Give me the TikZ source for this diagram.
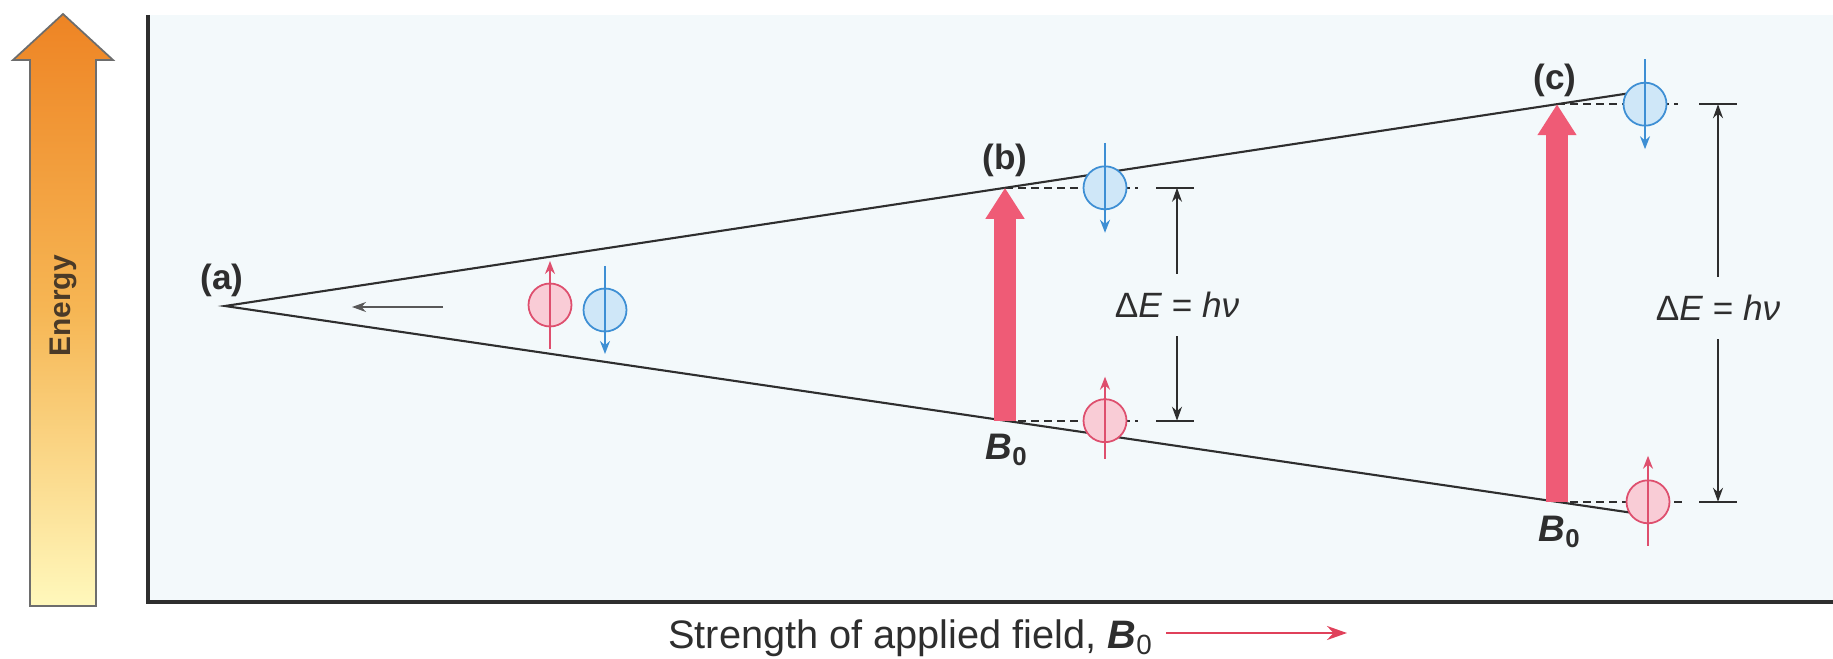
\documentclass[tikz,border=0pt]{standalone}
\usepackage{fontspec}
\setmainfont{Liberation Sans}
\usetikzlibrary{arrows.meta,positioning,calc}
\definecolor{ink}{HTML}{2E2E2E}
\definecolor{plotbg}{HTML}{F3F9FB}
\definecolor{pulsered}{HTML}{EF5B76}
\definecolor{fieldred}{HTML}{E0405A}
\definecolor{spinred}{HTML}{DE4F6E}
\definecolor{spinredfill}{HTML}{F9CCD6}
\definecolor{spinblue}{HTML}{3E8FD4}
\definecolor{spinbluefill}{HTML}{CFE7F8}
\definecolor{energytop}{HTML}{EE8424}
\definecolor{energymid}{HTML}{F6B654}
\definecolor{energybottom}{HTML}{FFF8BC}
\definecolor{energytext}{HTML}{4A3A28}
\tikzset{
  level/.style={
    draw=ink,
    line width=0.6pt
  },
  axisline/.style={
    draw=ink,
    line width=0.9pt
  },
  caselabel/.style={
    font=\bfseries\fontsize{10}{12}\selectfont,
    text=ink,
    inner sep=0pt
  },
  fieldlabel/.style={
    font=\bfseries\itshape\fontsize{10.5}{12}\selectfont,
    text=ink,
    inner sep=0pt
  },
  gaplabel/.style={
    font=\fontsize{10}{12}\selectfont,
    text=ink,
    inner xsep=1pt,
    inner ysep=5pt
  },
  pulse/.style={
    -{Triangle[length=3.1mm,width=3.7mm]},
    draw=pulsered,
    line width=6.4pt
  },
  upnucleus/.style={
    circle,
    draw=spinred,
    fill=spinredfill,
    line width=0.5pt,
    minimum size=4.3mm,
    inner sep=0pt
  },
  downnucleus/.style={
    circle,
    draw=spinblue,
    fill=spinbluefill,
    line width=0.5pt,
    minimum size=4.3mm,
    inner sep=0pt
  },
  upspin/.style={
    -{Stealth[length=1.3mm,width=1mm]},
    draw=spinred,
    line width=0.5pt
  },
  downspin/.style={
    -{Stealth[length=1.3mm,width=1mm]},
    draw=spinblue,
    line width=0.5pt
  },
  guide/.style={
    draw=ink,
    line width=0.5pt,
    dash pattern=on 2.2pt off 1.5pt
  },
  dimline/.style={
    -{Stealth[length=1.4mm,width=1mm]},
    draw=ink,
    line width=0.5pt
  },
  dimbar/.style={
    draw=ink,
    line width=0.5pt
  },
  fieldarrow/.style={
    -{Stealth[length=2mm,width=1.4mm]},
    draw=fieldred,
    line width=0.8pt
  }
}

\begin{document}
\begin{tikzpicture}[x=1cm,y=1cm]
  \useasboundingbox (0,0) rectangle (18.33,6.58);

  \shadedraw[top color=energytop, bottom color=energybottom, middle color=energymid,
    draw=ink!70, line width=0.5pt]
    (0.30,0.52) -- (0.96,0.52) -- (0.96,5.98) -- (1.13,5.98) -- (0.63,6.44)
    -- (0.13,5.98) -- (0.30,5.98) -- cycle;
  \node[rotate=90, font=\bfseries\fontsize{8.5}{10}\selectfont, text=energytext] (energy)
    at (0.63,3.52) {Energy};

  \fill[plotbg] (1.48,0.56) rectangle (18.33,6.43);
  \draw[axisline] (1.48,6.43) -- (1.48,0.56) -- (18.33,0.56);

  \coordinate (apex) at (2.25,3.52);
  \coordinate (upperend) at (16.48,5.676);
  \coordinate (lowerend) at (16.42,1.437);
  \coordinate (btop) at (10.05,4.702);
  \coordinate (bbot) at (10.05,2.373);
  \coordinate (ctop) at (15.57,5.538);
  \coordinate (cbot) at (15.57,1.562);

  \draw[level] (upperend) -- (apex) -- (lowerend);

  \node[caselabel] (lbla) at (2.22,3.78) {(a)};
  \node[caselabel] (lblb) at (10.05,4.98) {(b)};
  \node[caselabel] (lblc) at (15.55,5.78) {(c)};

  \coordinate (shiftstart) at (4.43,3.51);
  \coordinate (shiftend) at (3.52,3.51);
  \draw[dimline, draw=ink!80] (shiftstart) -- (shiftend);

  \draw[guide] (btop) -- ++(1.33,0);
  \draw[guide] (bbot) -- ++(1.33,0);
  \draw[guide] (ctop) -- ++(1.21,0);
  \draw[guide] (cbot) -- ++(1.25,0);

  \draw[pulse] (bbot) -- (btop);
  \draw[pulse] (cbot) -- (ctop);

  \node[upnucleus] (nupa) at (5.50,3.53) {};
  \node[downnucleus] (ndowna) at (6.05,3.48) {};
  \node[downnucleus] (ndownb) at (11.05,4.702) {};
  \node[upnucleus] (nupb) at (11.05,2.373) {};
  \node[downnucleus] (ndownc) at (16.45,5.538) {};
  \node[upnucleus] (nupc) at (16.48,1.562) {};

  \draw[upspin] ([yshift=-4.4mm]nupa.center) -- ([yshift=4.4mm]nupa.center);
  \draw[downspin] ([yshift=4.4mm]ndowna.center) -- ([yshift=-4.4mm]ndowna.center);
  \draw[downspin] ([yshift=4.5mm]ndownb.center) -- ([yshift=-4.5mm]ndownb.center);
  \draw[upspin] ([yshift=-3.8mm]nupb.center) -- ([yshift=4.4mm]nupb.center);
  \draw[downspin] ([yshift=4.5mm]ndownc.center) -- ([yshift=-4.5mm]ndownc.center);
  \draw[upspin] ([yshift=-4.4mm]nupc.center) -- ([yshift=4.6mm]nupc.center);

  \node[fieldlabel] (fieldb) at (10.07,2.08) {B\textsubscript{\upshape 0}};
  \node[fieldlabel] (fieldc) at (15.60,1.26) {B\textsubscript{\upshape 0}};

  \coordinate (bbartop) at (11.77,4.702);
  \coordinate (bbarbot) at (11.77,2.373);
  \draw[dimbar] ([xshift=-2.1mm]bbartop) -- ([xshift=1.7mm]bbartop);
  \draw[dimbar] ([xshift=-2.1mm]bbarbot) -- ([xshift=1.7mm]bbarbot);
  \node[gaplabel] (gapb) at (11.77,3.53) {Δ\textit{E} = \textit{hν}};
  \draw[dimline] (gapb) -- (bbartop);
  \draw[dimline] (gapb) -- (bbarbot);

  \coordinate (cbartop) at (17.18,5.538);
  \coordinate (cbarbot) at (17.18,1.562);
  \draw[dimbar] ([xshift=-1.9mm]cbartop) -- ([xshift=1.9mm]cbartop);
  \draw[dimbar] ([xshift=-1.9mm]cbarbot) -- ([xshift=1.9mm]cbarbot);
  \node[gaplabel] (gapc) at (17.18,3.50) {Δ\textit{E} = \textit{hν}};
  \draw[dimline] (gapc) -- (cbartop);
  \draw[dimline] (gapc) -- (cbarbot);

  \node[font=\fontsize{11.3}{13}\selectfont, text=ink] (fieldtext) at (9.11,0.20)
    {Strength of applied field, \textbf{\textit{B}}\textsubscript{0}};
  \coordinate (fieldend) at (13.47,0.25);
  \draw[fieldarrow] (fieldtext.east |- fieldend) -- (fieldend);
\end{tikzpicture}
\end{document}
